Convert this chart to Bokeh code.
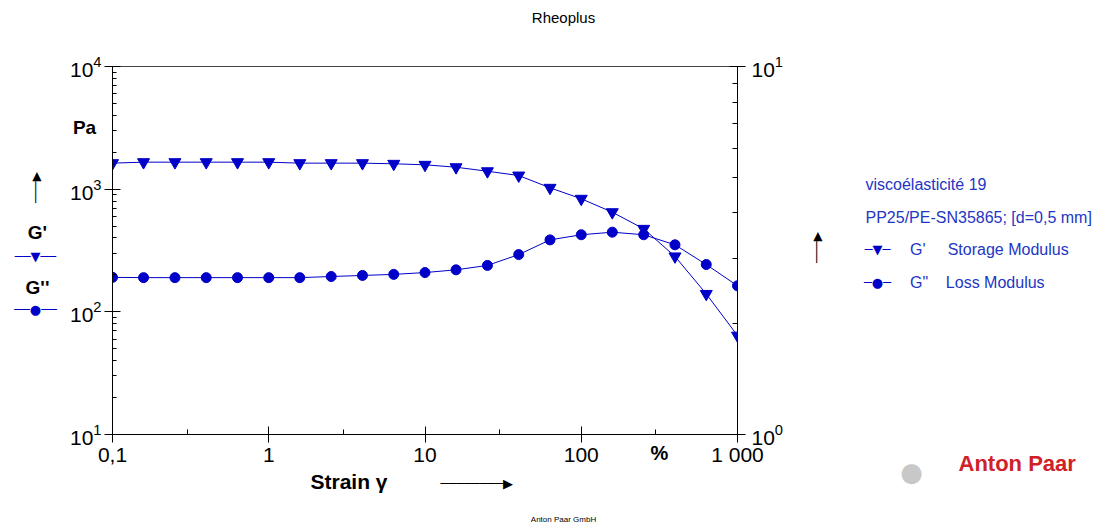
import math
from bokeh.plotting import figure
from bokeh.models import Range1d, LogAxis, LogScale, FixedTicker, Label
from bokeh.embed import file_html
from bokeh.resources import INLINE

# ---- data ----
strain = [0.1, 0.158, 0.251, 0.398, 0.631, 1.0, 1.58, 2.51, 3.98, 6.31, 10.0,
          15.8, 25.1, 39.8, 63.1, 100.0, 158.0, 251.0, 398.0, 631.0, 1000.0]
g_storage = [1630, 1660, 1660, 1660, 1660, 1660, 1630, 1630, 1630, 1610, 1580,
             1510, 1400, 1292, 1026, 835, 649, 475, 283, 140, 64]
g_loss = [191, 190, 190, 190, 190, 190, 190, 194, 198, 202, 209,
          220, 239, 293, 386, 425, 446, 425, 352, 243, 163]

x_ticks = [0.1, 1, 10, 100, 1000]
x_tick_labels = ["0,1", "1", "10", "100", "1 000"]
x_minor = [0.3, 3, 30, 300]
y_left_ticks = [10, 100, 1000, 10000]
y_right_ticks = [1, 10]

legend_title = "viscoélasticité 19"
legend_geometry = "PP25/PE-SN35865; [d=0,5 mm]"
legend_names = ["G'", "G\""]
legend_desc = ["Storage Modulus", "Loss Modulus"]

# ---- layout ----
W, H = 1114, 527
L, R, T, B = 112, 737, 66, 434
BLUE = "#0000c8"
TBLUE = "#2336c4"
RED = "#d02028"
FONT = "Liberation Sans"
SYM = "DejaVu Sans"
NB = "\u00a0"

p = figure(width=W, height=H, x_axis_type="log", y_axis_type="log",
           x_range=Range1d(0.1, 1000), y_range=Range1d(10, 10000),
           output_backend="svg", toolbar_location=None,
           min_border_left=L, min_border_right=W - R,
           min_border_top=T, min_border_bottom=H - B)
p.grid.visible = False
p.outline_line_color = "#444444"
p.background_fill_color = "white"
p.border_fill_color = "white"

xa = p.xaxis[0]
xa.ticker = FixedTicker(ticks=x_ticks, minor_ticks=x_minor)
xa.major_label_overrides = {t: l for t, l in zip(x_ticks, x_tick_labels)}
xa.major_tick_in = 8
xa.major_tick_out = 8
xa.minor_tick_in = 5
xa.minor_tick_out = 0
xa.axis_line_color = "black"
xa.major_tick_line_color = "black"
xa.minor_tick_line_color = "black"
xa.major_label_text_font = FONT
xa.major_label_text_font_size = "21px"
xa.major_label_text_color = "black"
xa.major_label_standoff = 0

ya = p.yaxis[0]
left_minor = [m * 10 ** k for k in (1, 2, 3) for m in range(2, 10)]
ya.ticker = FixedTicker(ticks=y_left_ticks, minor_ticks=left_minor)
ya.major_tick_in = 8
ya.major_tick_out = 8
ya.minor_tick_in = 4
ya.minor_tick_out = 0
ya.axis_line_color = "black"
ya.major_tick_line_color = "black"
ya.minor_tick_line_color = "black"
ya.major_label_text_font = FONT
ya.major_label_text_font_size = "21px"
ya.major_label_text_color = "black"
ya.major_label_standoff = 3

p.extra_y_ranges = {"r": Range1d(1, 10)}
p.extra_y_scales = {"r": LogScale()}
ra = LogAxis(y_range_name="r",
             ticker=FixedTicker(ticks=y_right_ticks, minor_ticks=list(range(2, 10))))
ra.major_tick_in = 8
ra.major_tick_out = 8
ra.minor_tick_in = 5
ra.minor_tick_out = 0
ra.axis_line_color = "black"
ra.major_tick_line_color = "black"
ra.minor_tick_line_color = "black"
ra.major_label_text_font = FONT
ra.major_label_text_font_size = "21px"
ra.major_label_text_color = "black"
ra.major_label_standoff = 6
p.add_layout(ra, "right")

# ---- data series ----
p.line(strain, g_storage, line_color=BLUE, line_width=1)
p.scatter(strain, g_storage, marker="inverted_triangle", size=12,
          fill_color=BLUE, line_color=BLUE)
p.line(strain, g_loss, line_color=BLUE, line_width=1)
p.scatter(strain, g_loss, marker="circle", size=10,
          fill_color=BLUE, line_color=BLUE)


# ---- texts and decorations (side panels so they are not clipped) ----
def px2x(X):
    return 10 ** (-1 + (X - L) / (R - L) * 4)


def px2y(Y):
    return 10 ** (4 - (Y - T) / (B - T) * 3)


def lab(side, X, Y, s, size, font=FONT, color="black", bold=False,
        align="left", angle=0.0, lh=1.2):
    p.add_layout(Label(x=px2x(X), y=px2y(Y), text=s, text_font=font,
                       text_font_size=f"{size}px", text_color=color,
                       text_font_style="bold" if bold else "normal",
                       text_align=align, text_baseline="middle",
                       angle=angle, text_line_height=lh), side)


lab("above", 563, 17, "Rheoplus", 15, align="center")
lab("above", 958, 463, "Anton Paar", 22, color=RED, bold=True)
lab("above", 84, 127, "Pa", 19, bold=True, align="center")

lab("left", 37, 259.5, "G'\nG''", 19, bold=True, align="center", lh=55 / (1.117 * 19))
lab("left", 35, 187, "───▶", 12, font=SYM, align="center", angle=math.pi / 2)
lab("left", 911, 471, "●", 26, font=SYM, color="#c8c8c8", align="center")

block = "\n".join([
    legend_title,
    legend_geometry,
    NB * 10 + legend_names[0] + NB * 5 + legend_desc[0],
    NB * 10 + legend_names[1] + NB * 4 + legend_desc[1],
])
lab("right", 865, 233, block, 16, color=TBLUE, lh=1.045 * 32.7 / (1.117 * 16))
lab("right", 659, 452, "%", 20, bold=True, align="center")
lab("right", 816, 247, "───▶", 12, font=SYM, align="center", angle=math.pi / 2)
lab("right", 877, 265.5, "─▼─\n─●─", 13, font=SYM, color=BLUE, align="center",
    lh=33 / (1.164 * 13))
lab("right", 35, 282.5, "──▼──\n──●──", 13, font=SYM, color=BLUE, align="center",
    lh=53 / (1.164 * 13))

lab("below", 310, 481, "Strain γ", 21, bold=True)
lab("below", 440, 483, "────────▶", 13, font=SYM)
lab("below", 563, 519, "Anton Paar GmbH", 8, align="center")

open("out.html", "w").write(file_html(p, INLINE))
